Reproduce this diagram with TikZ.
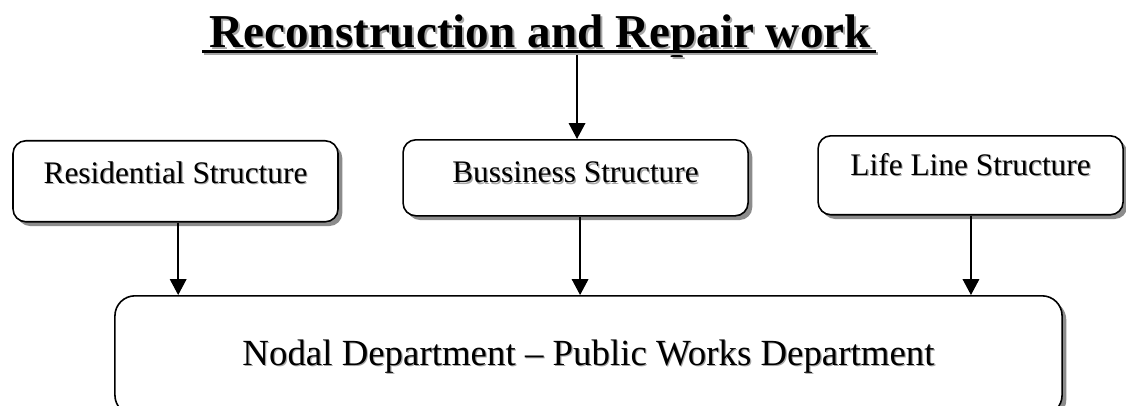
\documentclass[tikz,border=0pt]{standalone}
\usepackage{fontspec}
\setmainfont{Liberation Serif}
\usetikzlibrary{arrows.meta,shadows}

% text with a grey copy set a little right and down
\newcommand{\shadetext}[2][0.9pt]{\rlap{\kern#1\raisebox{-#1}{\color{gray!70}#2}}#2}

\tikzset{
  structbox/.style={draw, line width=1.2pt, rounded corners=0.34cm, fill=white,
    inner xsep=0pt, inner ysep=0pt, anchor=north,
    general shadow={fill=gray!90, shadow xshift=3.2pt, shadow yshift=-3.2pt}},
  flowarrow/.style={line width=1.1pt, -{Triangle[width=12.5pt,length=12pt]}}
}

\begin{document}
\begin{tikzpicture}
    \clip (0,0) rectangle (29.792000,10.716000);
    {\fontsize{23.6}{28}\selectfont

    % Marking title
    \draw (14.288000,9.472000) node [anchor=base, inner sep=0pt, font=\bfseries\fontsize{35.5}{40}\selectfont] (title) {\shadetext[1.5pt]{Reconstruction and Repair work}};%
    \draw [line width=2.2pt, gray!70] ([xshift=-0.13cm, yshift=-4.9pt]title.base west) -- ([xshift=0.18cm, yshift=-4.9pt]title.base east);%
    \draw [line width=2.2pt] ([xshift=-0.18cm, yshift=-3.4pt]title.base west) -- ([xshift=0.13cm, yshift=-3.4pt]title.base east);%
    \coordinate (titlefoot) at (15.267000,9.261000);%

    % Marking box Residential Structure
    \draw (4.644000,7.012000) node [structbox, minimum width=8.600cm, text height=1.138cm, text depth=1.005cm] (resid) {\shadetext{Residential Structure}};%

    % Marking box Bussiness Structure
    \draw (15.228000,7.038000) node [structbox, minimum width=9.128cm, text height=1.138cm, text depth=0.873cm] (buss) {\shadetext{Bussiness Structure}};%

    % Marking box Life Line Structure
    \draw (25.680000,7.144000) node [structbox, minimum width=8.070cm, text height=1.058cm, text depth=1.032cm] (life) {\shadetext{Life Line Structure}};%

    % Marking box Nodal Department
    \draw (15.571000,2.910000) node [structbox, rounded corners=0.53cm, minimum width=25.060cm, text height=1.839cm, text depth=1.320cm, font=\fontsize{27.75}{33}\selectfont] (nodal) {\shadetext{Nodal Department -- Public Works Department}};%

    % Drawing arrow title buss
    \draw [flowarrow] (titlefoot) -- (titlefoot |- buss.north);%

    % Drawing arrow resid nodal
    \draw [flowarrow] ([xshift=0.07cm]resid.south) -- ([xshift=0.07cm]resid.south |- nodal.north);%

    % Drawing arrow buss nodal
    \draw [flowarrow] ([xshift=0.12cm]buss.south) -- ([xshift=0.12cm]buss.south |- nodal.north);%

    % Drawing arrow life nodal
    \draw [flowarrow] ([xshift=0.01cm]life.south) -- ([xshift=0.01cm]life.south |- nodal.north);%
    }
\end{tikzpicture}
\end{document}
